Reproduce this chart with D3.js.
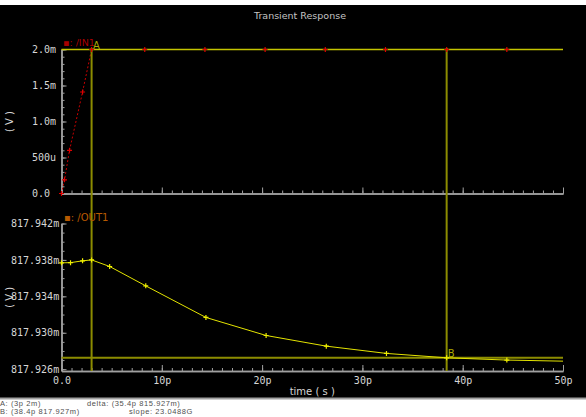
<!DOCTYPE html>
<html>
<head>
<meta charset="utf-8">
<script src="https://cdn.jsdelivr.net/npm/d3@7"></script>
<style>
body { margin: 0; background: #000; }
svg { display: block; }
</style>
</head>
<body>
<div id="chart"></div>
<script>
// IN1 trace: time in ps, value in mV
const inTime = [0, 0.3, 0.8, 2.1, 3, 8.3, 14.3, 20.3, 26.3, 32.3, 38.4, 44.4, 50];
const inVolt = [0, 0.19, 0.6, 1.41, 2, 2, 2, 2, 2, 2, 2, 2, 2];

// OUT1 trace: time in ps, value in mV
const outTime = [0, 0.9, 2.1, 3, 4.8, 8.4, 14.4, 20.4, 26.4, 32.4, 38.4, 44.4, 50];
const outVolt = [817.93768, 817.9377, 817.9379, 817.938, 817.93728, 817.93515, 817.93168,
                 817.9297, 817.92853, 817.92773, 817.92725, 817.927, 817.92688];

const xTicks = [0, 10, 20, 30, 40, 50];
const xLabels = ["0.0", "10p", "20p", "30p", "40p", "50p"];
const topTicks = [0, 0.5, 1, 1.5, 2];
const topLabels = ["0.0", "500u", "1.0m", "1.5m", "2.0m"];
const botTicks = [817.926, 817.93, 817.934, 817.938, 817.942];
const botLabels = ["817.926m", "817.930m", "817.934m", "817.938m", "817.942m"];

// cursors A and B
const cursorNames = ["A", "B"];
const cursorTime = [3, 38.4];
const footerLines = ["A: (3p 2m)", "B: (38.4p 817.927m)", "delta: (35.4p 815.927m)", "slope: 23.0488G"];

const W = 586, H = 417;
const axisColor = "#a0a0a0", labelColor = "#d6d6d6", cursorColor = "#8c8c00";
const monoFont = "DejaVu Sans Mono", sansFont = "DejaVu Sans";

let x = d3.scaleLinear().domain([0, 50]).range([61.5, 563]);
let yTop = d3.scaleLinear().domain([0, 2]).range([193.5, 49.5]);
let yBot = d3.scaleLinear().domain([817.9258, 817.942]).range([371, 223.5]);

let svg = d3.select("#chart").append("svg")
    .attr("width", W)
    .attr("height", H);

svg.append("rect").attr("width", W).attr("height", H).attr("fill", "#000");
svg.append("rect").attr("width", W).attr("height", 5).attr("fill", "#fff");
svg.append("rect").attr("y", 399).attr("width", W).attr("height", H - 399).attr("fill", "#fff");
svg.append("line").attr("x1", 0).attr("x2", W).attr("y1", 398.5).attr("y2", 398.5)
    .attr("stroke", "#a0a0a0").attr("stroke-width", 2);

svg.append("text")
    .attr("x", 300).attr("y", 19)
    .attr("text-anchor", "middle")
    .style("font-family", sansFont).style("font-size", "9.5px")
    .attr("fill", "#c4c4c4")
    .text("Transient Response");

function drawXAxis(yPos, withLabels) {
    let g = svg.append("g")
        .attr("transform", "translate(0," + yPos + ")")
        .attr("color", axisColor);
    g.append("g").call(d3.axisBottom(x).tickValues(d3.range(0, 50.01, 1)).tickSize(-3).tickSizeOuter(0).tickFormat(""));
    let major = g.append("g").call(d3.axisBottom(x).tickValues(xTicks).tickSize(-6).tickSizeOuter(0)
        .tickFormat((d, i) => withLabels ? xLabels[i] : ""));
    major.selectAll("text")
        .attr("y", 6).attr("dy", "0.71em")
        .attr("fill", labelColor)
        .style("font-family", monoFont).style("font-size", "10px");
    g.selectAll(".domain").attr("stroke-width", 1.5);
}

function drawYAxis(scale, minorStep, ticks, labels, labelX) {
    let d = scale.domain();
    let g = svg.append("g")
        .attr("transform", "translate(" + x.range()[0] + ",0)")
        .attr("color", axisColor);
    let first = Math.ceil(d[0] / minorStep - 1e-6) * minorStep;
    g.append("g").call(d3.axisLeft(scale).tickValues(d3.range(first, d[1] + minorStep / 2, minorStep))
        .tickSize(-3).tickSizeOuter(0).tickFormat(""));
    let major = g.append("g").call(d3.axisLeft(scale).tickValues(ticks).tickSize(-5).tickSizeOuter(0)
        .tickFormat((v, i) => labels[i]));
    major.selectAll("text")
        .attr("x", labelX - x.range()[0])
        .attr("text-anchor", "start")
        .attr("fill", labelColor)
        .style("font-family", monoFont).style("font-size", "10px");
    g.selectAll(".domain").attr("stroke-width", 1.5);
}

drawXAxis(yTop.range()[0], false);
drawXAxis(yBot.range()[0], true);
drawYAxis(yTop, 0.1, topTicks, topLabels, 32);
drawYAxis(yBot, 0.001, botTicks, botLabels, 11);

// axis titles
[[yTop, "( V )"], [yBot, "( V )"]].forEach(([s, t]) => {
    let cy = (s.range()[0] + s.range()[1]) / 2;
    svg.append("text")
        .attr("transform", "translate(13," + cy + ") rotate(-90)")
        .attr("text-anchor", "middle")
        .style("font-family", sansFont).style("font-size", "10px")
        .attr("fill", labelColor)
        .text(t);
});

svg.append("text")
    .attr("x", (x.range()[0] + x.range()[1]) / 2).attr("y", 395)
    .attr("text-anchor", "middle")
    .style("font-family", sansFont).style("font-size", "10px")
    .attr("fill", labelColor)
    .text("time ( s )");

// IN1 dashed trace
let inData = inTime.map((t, i) => ({t: t, v: inVolt[i]}));
let outData = outTime.map((t, i) => ({t: t, v: outVolt[i]}));

svg.append("path")
    .datum(inData)
    .attr("fill", "none")
    .attr("stroke", "#c80000")
    .attr("stroke-width", 1)
    .attr("stroke-dasharray", "2,2")
    .attr("d", d3.line().x(d => x(d.t)).y(d => yTop(d.v)));

// horizontal cursor lines
svg.append("line")
    .attr("x1", x.range()[0]).attr("x2", x.range()[1])
    .attr("y1", yTop(inVolt[inTime.indexOf(cursorTime[0])])).attr("y2", yTop(inVolt[inTime.indexOf(cursorTime[0])]))
    .attr("stroke", "#c4c400").attr("stroke-width", 1.5);
svg.append("line")
    .attr("x1", x.range()[0]).attr("x2", x.range()[1])
    .attr("y1", yBot(outVolt[outTime.indexOf(cursorTime[1])])).attr("y2", yBot(outVolt[outTime.indexOf(cursorTime[1])]))
    .attr("stroke", cursorColor).attr("stroke-width", 2);

// OUT1 trace
svg.append("path")
    .datum(outData)
    .attr("fill", "none")
    .attr("stroke", "#e4e400")
    .attr("stroke-width", 1)
    .attr("d", d3.line().x(d => x(d.t)).y(d => yBot(d.v)));

// vertical cursor lines
cursorTime.forEach(function (t, i) {
    svg.append("line")
        .attr("x1", x(t)).attr("x2", x(t))
        .attr("y1", yTop.range()[1] - 1.5).attr("y2", yBot.range()[0])
        .attr("stroke", cursorColor).attr("stroke-width", 2);
});
svg.append("text")
    .attr("x", x(cursorTime[0]) + 1.5).attr("y", 48.5)
    .style("font-family", sansFont).style("font-size", "10px")
    .attr("fill", "#a8a800")
    .text(cursorNames[0]);
svg.append("text")
    .attr("x", x(cursorTime[1]) + 1).attr("y", 357)
    .style("font-family", sansFont).style("font-size", "10px")
    .attr("fill", "#a8a800")
    .text(cursorNames[1]);

// markers
const cross = "M-2.5,0H2.5M0,-2.5V2.5";
svg.selectAll(".inMark")
    .data(inData.slice(0, -1))
    .enter().append("path")
    .attr("class", "inMark")
    .attr("transform", d => "translate(" + x(d.t) + "," + yTop(d.v) + ")")
    .attr("d", cross)
    .attr("stroke", "#e00000")
    .attr("stroke-width", 1.2);
svg.selectAll(".outMark")
    .data(outData.slice(0, -1))
    .enter().append("path")
    .attr("class", "outMark")
    .attr("transform", d => "translate(" + x(d.t) + "," + yBot(d.v) + ")")
    .attr("d", cross)
    .attr("stroke", "#f0f000")
    .attr("stroke-width", 1.2);

// trace legends
svg.append("text")
    .attr("x", 63).attr("y", 45.5)
    .style("font-family", sansFont).style("font-size", "9.5px")
    .attr("fill", "#a80000")
    .text("▪: /IN1");
svg.append("text")
    .attr("x", 64).attr("y", 221)
    .style("font-family", sansFont).style("font-size", "10px")
    .attr("fill", "#b85a00")
    .text("▪: /OUT1");

// footer
let footerPos = [[0, 405.5], [0, 414], [87, 405.5], [129, 414]];
footerLines.forEach(function (t, i) {
    svg.append("text")
        .attr("x", footerPos[i][0]).attr("y", footerPos[i][1])
        .style("font-family", "Liberation Sans").style("font-size", "7.5px")
        .style("letter-spacing", "0.6px")
        .attr("fill", "#505050")
        .text(t);
});
</script>
</body>
</html>
